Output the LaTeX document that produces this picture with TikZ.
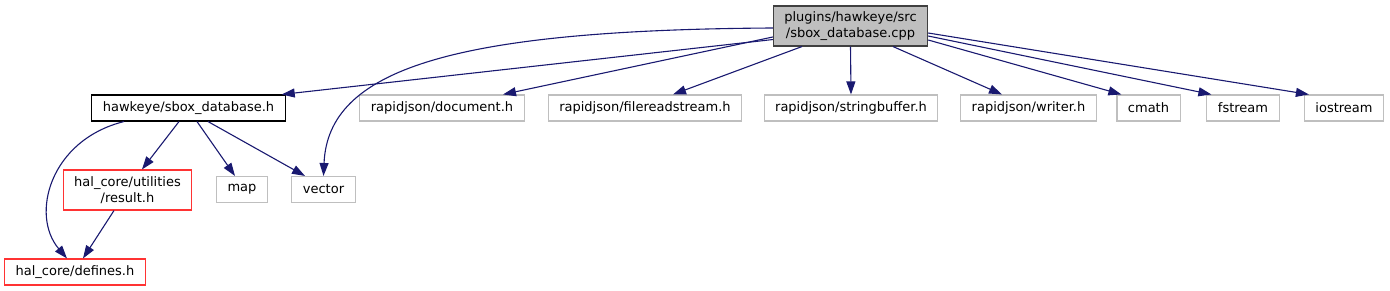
\documentclass[tikz,border=0pt]{standalone}
\usepackage{fontspec}
\setmainfont{DejaVu Sans}
\usepackage{xcolor}
\usepackage{tikz}
\usetikzlibrary{arrows.meta}
\definecolor{edgeblue}{HTML}{191970}
\definecolor{boxgray}{HTML}{BFBFBF}
\definecolor{rimgray}{HTML}{404040}
\definecolor{fadegray}{HTML}{BFBFBF}
\definecolor{trunred}{HTML}{FF3333}
\tikzset{
  file/.style={draw, line width=1.1pt, fill=white, inner xsep=11pt, inner ysep=2pt,
    minimum height=26pt, align=center, font=\fontsize{13}{16}\selectfont},
  filetwo/.style={file, minimum height=40pt},
  sysfile/.style={file, draw=fadegray},
  redfile/.style={file, draw=trunred},
  incl/.style={draw=edgeblue, line width=1.1pt, -{Triangle[length=13pt,width=9pt]}}
}

\begin{document}
\begin{tikzpicture}[x=1pt,y=-1pt]
\useasboundingbox (0,0) rectangle (1390,291);
% top file
\node[filetwo, fill=boxgray, draw=rimgray] (cpp) at (850.5,26)
  {plugins/hawkeye/src\\/sbox\_database.cpp};
% first row
\node[file, draw=black] (sboxh) at (188.5,108) {hawkeye/sbox\_database.h};
\node[sysfile] (document) at (442,108) {rapidjson/document.h};
\node[sysfile] (filereadstream) at (645,108) {rapidjson/filereadstream.h};
\node[sysfile] (stringbuffer) at (851,108) {rapidjson/stringbuffer.h};
\node[sysfile] (writer) at (1028.5,108) {rapidjson/writer.h};
\node[sysfile] (cmath) at (1148.5,108) {cmath};
\node[sysfile] (fstream) at (1243,108) {fstream};
\node[sysfile] (iostream) at (1344,108) {iostream};
% second row
\node[filetwo, draw=trunred] (result) at (127.5,190) {hal\_core/utilities\\/result.h};
\node[sysfile] (map) at (242,189.5) {map};
\node[sysfile] (vector) at (323.5,189.5) {vector};
% third row
\node[redfile] (defines) at (75,272) {hal\_core/defines.h};

\draw[incl] ([yshift=7pt]cpp.south west) -- ([xshift=-4pt]sboxh.north east);
\draw[incl] ([yshift=-2pt]cpp.west) .. controls (450,30) and (328,70) .. (vector.north);
\draw[incl] ([yshift=-11pt]cpp.west) -- ([xshift=61pt]document.north);
\draw[incl] ([xshift=-48.5pt]cpp.south) -- ([xshift=28pt]filereadstream.north);
\draw[incl] (cpp.south) -- (stringbuffer.north);
\draw[incl] ([xshift=42.5pt]cpp.south) -- ([xshift=-26.5pt]writer.north);
\draw[incl] ([yshift=-14pt]cpp.east) -- ([xshift=5pt]cmath.north west);
\draw[incl] ([yshift=-10pt]cpp.east) -- ([xshift=5pt]fstream.north west);
\draw[incl] ([yshift=-7pt]cpp.east) -- ([xshift=5pt]iostream.north west);

\draw[incl] ([xshift=-9.5pt]sboxh.south) -- ([xshift=14.5pt]result.north);
\draw[incl] ([xshift=8.5pt]sboxh.south) -- ([xshift=-7pt]map.north);
\draw[incl] ([xshift=19.5pt]sboxh.south) -- ([xshift=-18.5pt]vector.north);
\draw[incl] ([xshift=-64.5pt]sboxh.south) .. controls (50,140) and (30,215) .. ([xshift=-8pt]defines.north);
\draw[incl] ([xshift=-13.5pt]result.south) -- ([xshift=8pt]defines.north);
\end{tikzpicture}
\end{document}
